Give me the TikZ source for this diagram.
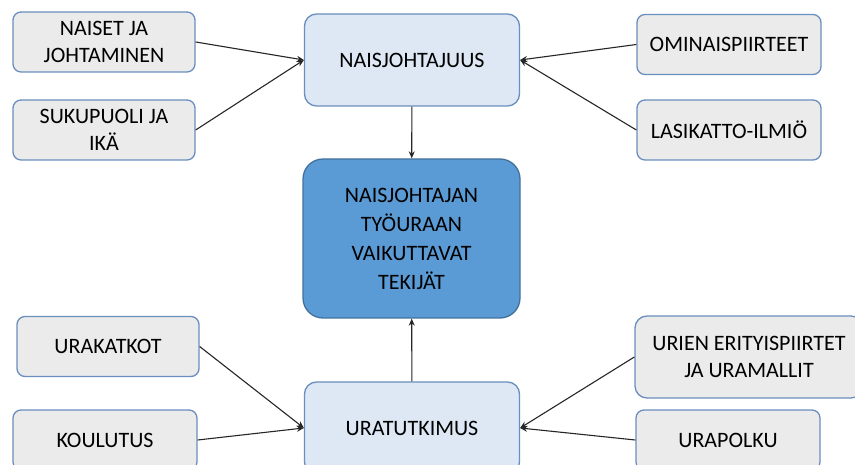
\documentclass[tikz,border=0pt]{standalone}
\usepackage{fontspec}
\setmainfont{Carlito}
\usetikzlibrary{arrows.meta}
\definecolor{topicgray}{HTML}{EBEBEB}
\definecolor{topicedge}{HTML}{6A8EBE}
\definecolor{themeblue}{HTML}{DDE8F4}
\definecolor{corefill}{HTML}{5B9BD5}
\definecolor{coreedge}{HTML}{41719C}

\begin{document}
\begin{tikzpicture}[x=1pt, y=-1pt,
        topic/.style={rectangle, rounded corners=8pt, draw=topicedge, line width=1.3pt, fill=topicgray, minimum width=182pt, minimum height=60pt, inner sep=0pt, align=center, font=\fontsize{22}{27}\selectfont},
        theme/.style={rectangle, rounded corners=12pt, draw=topicedge, line width=1.3pt, fill=themeblue, minimum width=215pt, minimum height=92pt, inner sep=0pt, align=center, font=\fontsize{22}{27}\selectfont},
        link/.style={-{Stealth[length=7pt, width=6pt]}, line width=1.1pt, black!85}]
      \useasboundingbox (0,0) rectangle (855,465);
      % Themes
      \node[theme] (naisj) at (412,60) {NAISJOHTAJUUS};
      \node[theme] (urat) at (412,428) {URATUTKIMUS};
      \node[rectangle, rounded corners=20pt, draw=coreedge, line width=1.3pt, fill=corefill, minimum width=217pt, minimum height=159pt, align=center, font=\fontsize{22}{29}\selectfont] (core) at (411.5,238.5) {NAISJOHTAJAN\\TYÖURAAN\\VAIKUTTAVAT\\TEKIJÄT};
      
      \draw[link] (naisj) -- (core);
      \draw[link] (urat) -- (core);
      
      % Topics
      \node[topic] (naiset) at (104,42) {NAISET JA\\JOHTAMINEN};
      \node[topic] (sukup) at (104,130) {SUKUPUOLI JA\\IKÄ};
      \node[topic, minimum width=184pt] (omin) at (729,44.5) {OMINAISPIIRTEET};
      \node[topic, minimum width=184pt] (lasi) at (729,130) {LASIKATTO-ILMIÖ};
      \node[topic] (katkot) at (108,346.5) {URAKATKOT};
      \node[topic, minimum width=184pt] (koulu) at (105,440) {KOULUTUS};
      \node[topic, minimum width=228pt, minimum height=82pt, rounded corners=12pt] (urien) at (749,357) {URIEN ERITYISPIIRTET\\JA URAMALLIT};
      \node[topic, minimum width=184pt] (polku) at (728,440) {URAPOLKU};
      
      \draw[link] (naiset.east) -- (naisj.west);
      \draw[link] (sukup.east) -- (naisj.west);
      \draw[link] (omin.west) -- (naisj.east);
      \draw[link] (lasi.west) -- (naisj.east);
      \draw[link] (katkot.east) -- (urat.west);
      \draw[link] (koulu.east) -- (urat.west);
      \draw[link] (urien.west) -- (urat.east);
      \draw[link] (polku.west) -- (urat.east);
    \end{tikzpicture}
\end{document}
